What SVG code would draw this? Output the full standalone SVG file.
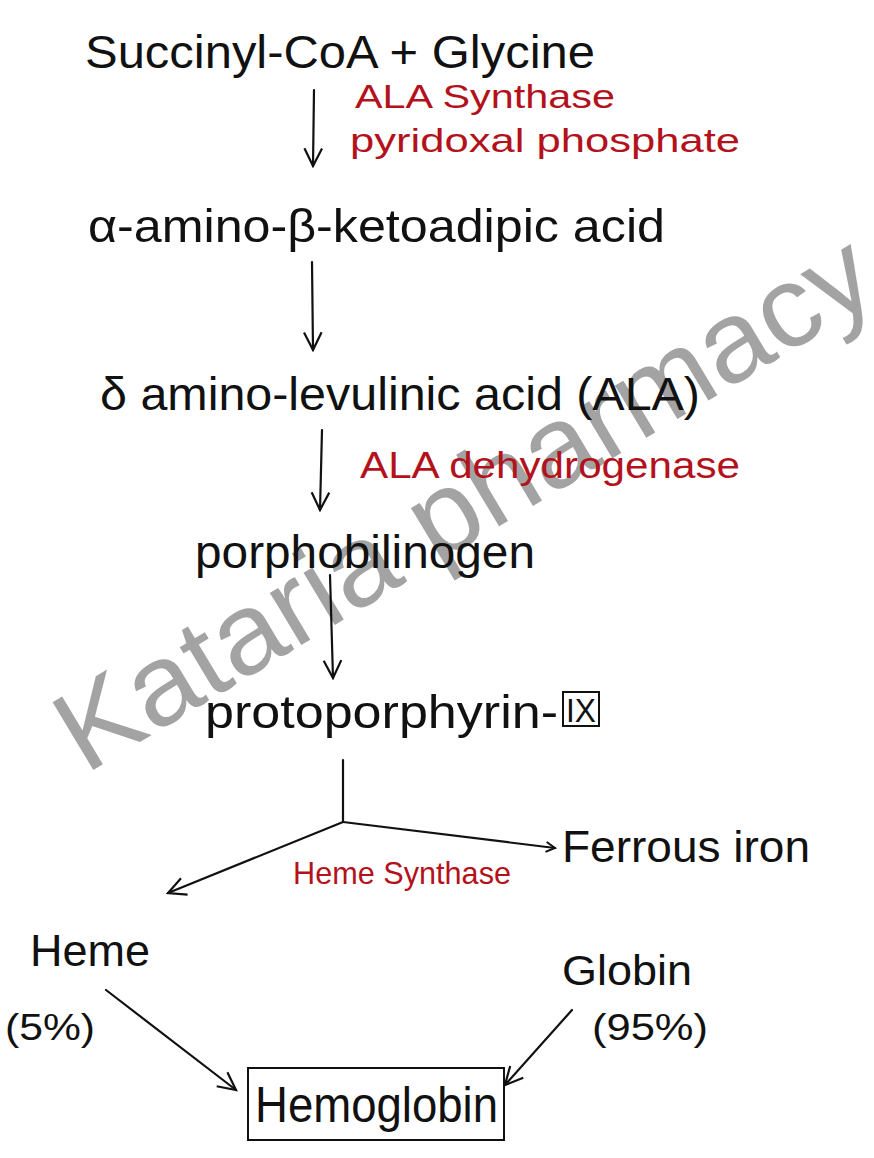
<svg xmlns="http://www.w3.org/2000/svg" width="874" height="1158" viewBox="0 0 874 1158">
<defs>
<marker id="ah" viewBox="0 0 12 12" refX="10" refY="6" markerWidth="12" markerHeight="12" markerUnits="userSpaceOnUse" orient="auto">
<path d="M1,1 L10,6 L1,11" fill="none" stroke="#111" stroke-width="2"/>
</marker>
<marker id="ahb" viewBox="0 0 20 20" refX="18" refY="10" markerWidth="22" markerHeight="22" markerUnits="userSpaceOnUse" orient="auto">
<path d="M2,2 L18,10 L2,18" fill="none" stroke="#111" stroke-width="2"/>
</marker>
</defs>
<style>
.ink{font-family:"Liberation Sans",Arial,sans-serif;fill:#111;font-weight:300}
.red{font-family:"Liberation Sans",Arial,sans-serif;fill:#b3121c}
.ln{fill:none;stroke:#111;stroke-width:2.2;stroke-linecap:round}
.wm{font-family:"Liberation Sans",Arial,sans-serif;fill:#8c8c8c;fill-opacity:0.8}
</style>
<rect width="874" height="1158" fill="#ffffff"/>
<g id="watermark">
<text class="wm" x="0" y="0" font-size="115" textLength="930" lengthAdjust="spacingAndGlyphs" transform="translate(85,775) rotate(-31)">Kataria pharmacy</text>
</g>
<g id="connectors">
<line class="ln" x1="314" y1="90" x2="313" y2="166" marker-end="url(#ahb)"/>
<line class="ln" x1="312" y1="262" x2="313" y2="350" marker-end="url(#ahb)"/>
<line class="ln" x1="322" y1="430" x2="320" y2="510" marker-end="url(#ahb)"/>
<line class="ln" x1="330" y1="575" x2="333" y2="678" marker-end="url(#ahb)"/>
<line class="ln" x1="343" y1="760" x2="343" y2="822"/>
<line class="ln" x1="343" y1="822" x2="168" y2="893" marker-end="url(#ahb)"/>
<line class="ln" x1="343" y1="822" x2="555" y2="848" marker-end="url(#ah)"/>
<line class="ln" x1="106" y1="990" x2="236" y2="1090" marker-end="url(#ahb)"/>
<line class="ln" x1="572" y1="1010" x2="505" y2="1085" marker-end="url(#ahb)"/>
</g>
<g id="n-succinyl"><text class="ink" x="85" y="68" font-size="46" textLength="510" lengthAdjust="spacingAndGlyphs">Succinyl-CoA + Glycine</text></g>
<g id="e-ala-synthase">
<text class="red" x="355" y="108" font-size="34" textLength="260" lengthAdjust="spacingAndGlyphs">ALA Synthase</text>
<text class="red" x="350" y="152" font-size="34" textLength="390" lengthAdjust="spacingAndGlyphs">pyridoxal phosphate</text>
</g>
<g id="n-ketoadipic"><text class="ink" x="88" y="242" font-size="46" textLength="577" lengthAdjust="spacingAndGlyphs">α-amino-β-ketoadipic acid</text></g>
<g id="n-ala"><text class="ink" x="100" y="410" font-size="46" textLength="600" lengthAdjust="spacingAndGlyphs">δ amino-levulinic acid (ALA)</text></g>
<g id="e-ala-dehydrogenase"><text class="red" x="360" y="478" font-size="36" textLength="380" lengthAdjust="spacingAndGlyphs">ALA dehydrogenase</text></g>
<g id="n-porphobilinogen"><text class="ink" x="195" y="568" font-size="46" textLength="340" lengthAdjust="spacingAndGlyphs">porphobilinogen</text></g>
<g id="n-protoporphyrin">
<text class="ink" x="205" y="728" font-size="46" textLength="353" lengthAdjust="spacingAndGlyphs">protoporphyrin-</text>
<text class="ink" x="566" y="722" font-size="34" textLength="30" lengthAdjust="spacingAndGlyphs">IX</text>
<rect x="563" y="692" width="36" height="34" fill="none" stroke="#111" stroke-width="2"/>
</g>
<g id="n-ferrous"><text class="ink" x="562" y="862" font-size="44" textLength="248" lengthAdjust="spacingAndGlyphs">Ferrous iron</text></g>
<g id="e-heme-synthase"><text class="red" x="293" y="884" font-size="32" textLength="218" lengthAdjust="spacingAndGlyphs">Heme Synthase</text></g>
<g id="n-heme">
<text class="ink" x="30" y="966" font-size="44" textLength="120" lengthAdjust="spacingAndGlyphs">Heme</text>
<text class="ink" x="5" y="1040" font-size="36" textLength="90" lengthAdjust="spacingAndGlyphs">(5%)</text>
</g>
<g id="n-globin">
<text class="ink" x="562" y="985" font-size="42" textLength="130" lengthAdjust="spacingAndGlyphs">Globin</text>
<text class="ink" x="592" y="1040" font-size="36" textLength="116" lengthAdjust="spacingAndGlyphs">(95%)</text>
</g>
<g id="n-hemoglobin">
<rect x="248" y="1068" width="256" height="72" fill="none" stroke="#111" stroke-width="2"/>
<text class="ink" x="255" y="1122" font-size="50" textLength="243" lengthAdjust="spacingAndGlyphs">Hemoglobin</text>
</g>
</svg>
